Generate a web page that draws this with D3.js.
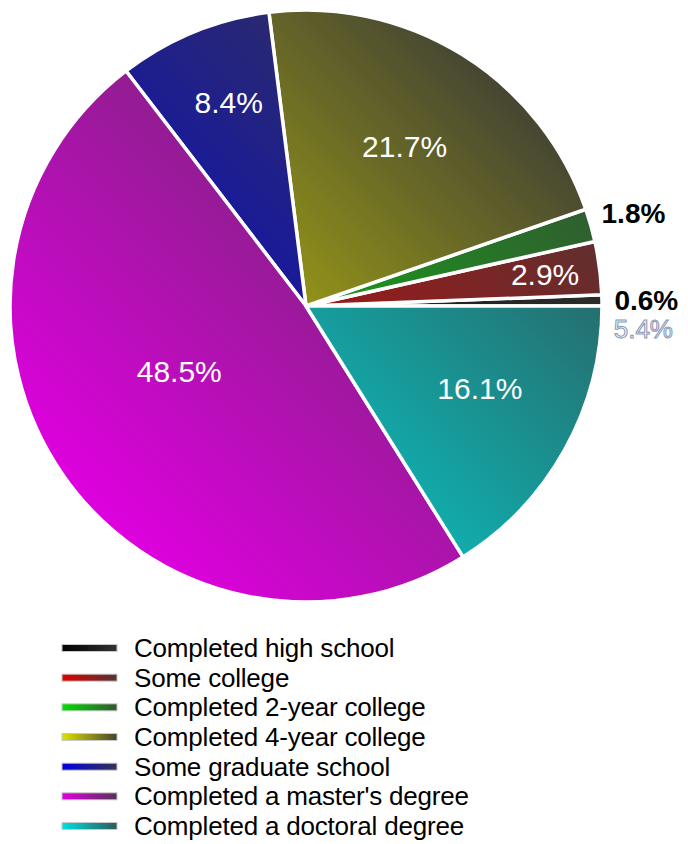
<!DOCTYPE html>
<html>
<head>
<meta charset="utf-8">
<script src="https://cdn.jsdelivr.net/npm/d3@7"></script>
<style>
  body { margin: 0; background: #fff; }
  text { font-family: "Liberation Sans", Arial, sans-serif; }
</style>
</head>
<body>
<div id="container"></div>
<script>
// data
var categories = ["Completed high school", "Some college", "Completed 2-year college",
  "Completed 4-year college", "Some graduate school", "Completed a master's degree",
  "Completed a doctoral degree"];
var percents = [0.6, 2.9, 1.8, 21.7, 8.4, 48.5, 16.1];
var brightColors = ["#000000", "#e00000", "#00e000", "#e0e000", "#0000e0", "#e000e0", "#00e0e0"];
var darkColors = ["#333333", "#553333", "#335533", "#444433", "#333355", "#553355", "#2c5a5a"];
var extraLabel = "5.4%";

const width = 688;
const height = 844;
const cx = 306, cy = 306, radius = 296;

const svg = d3.select('#container')
  .append('svg')
  .attr('width', width)
  .attr('height', height);

const defs = svg.append('defs');

// pie gradients run over the whole pie, bright at lower left
const gr = radius * 0.72;
categories.forEach(function(c, i){
  var g = defs.append('linearGradient')
    .attr('id', 'pg' + i)
    .attr('gradientUnits', 'userSpaceOnUse')
    .attr('x1', -gr).attr('y1', gr)
    .attr('x2', gr).attr('y2', -gr);
  g.append('stop').attr('offset', '0%').attr('stop-color', brightColors[i]);
  g.append('stop').attr('offset', '100%').attr('stop-color', darkColors[i]);

  var lg = defs.append('linearGradient')
    .attr('id', 'lg' + i)
    .attr('x1', 0).attr('y1', 0).attr('x2', 1).attr('y2', 0);
  lg.append('stop').attr('offset', '0%').attr('stop-color', brightColors[i]);
  lg.append('stop').attr('offset', '100%').attr('stop-color', darkColors[i]);
});

var data = categories.map(function(c, i){ return {name: c, value: percents[i], idx: i}; });

// start at 3 o'clock, go counter-clockwise
const pie = d3.pie()
  .sort(null)
  .value(d => d.value)
  .startAngle(Math.PI / 2)
  .endAngle(Math.PI / 2 - 2 * Math.PI);

const arc = d3.arc().innerRadius(0).outerRadius(radius);

const g = svg.append('g').attr('transform', `translate(${cx},${cy})`);
const arcs = pie(data);

g.selectAll('path.slice')
  .data(arcs)
  .enter()
  .append('path')
  .attr('class', 'slice')
  .attr('d', arc)
  .attr('fill', d => 'url(#pg' + d.data.idx + ')')
  .attr('stroke', '#fff')
  .attr('stroke-width', 3.5)
  .attr('stroke-linejoin', 'round');

function labelPos(d, r){
  var a = (d.startAngle + d.endAngle) / 2;
  return [Math.sin(a) * r, -Math.cos(a) * r];
}

// labels: big slices inside (closer to centre the bigger they are), tiny ones outside
arcs.forEach(function(d){
  var p = d.data.value;
  var txt = p.toFixed(1) + '%';
  if (p >= 2.5) {
    var k = 0.92 - 0.062 * Math.sqrt(p);
    var pos = labelPos(d, radius * k);
    // lift labels of the lower half a bit
    var lower = pos[1] > 0;
    var lift = Math.max(0, pos[1] / radius) * 28 / k;
    var nudge = lower && pos[0] < 0 ? -8 : (pos[1] < 0 && pos[0] < 0 ? 6 : 0);
    g.append('text')
      .attr('x', pos[0] + nudge).attr('y', pos[1] - lift + 10)
      .attr('text-anchor', 'middle')
      .style('font-size', '30px')
      .style('fill', '#fff')
      .text(txt);
  } else {
    var pos = labelPos(d, radius * 1.15);
    g.append('text')
      .attr('x', pos[0]).attr('y', pos[1] + 10)
      .attr('text-anchor', 'middle')
      .style('font-size', '28px')
      .style('font-weight', 'bold')
      .style('fill', '#000')
      .text(txt);
  }
});

// stray label under the smallest slice label
var first = labelPos(arcs[0], radius * 1.15);
g.append('text')
  .attr('x', first[0] - 3).attr('y', first[1] + 38)
  .attr('text-anchor', 'middle')
  .style('font-size', '26px')
  .style('fill', '#f4f4f4')
  .style('stroke', '#8798b8')
  .style('stroke-width', 1)
  .text(extraLabel);

//legend
const legendY = d3.scaleLinear().domain([0, categories.length - 1]).range([648, 826]);
const legend = svg.append('g');
categories.forEach(function(c, i){
  legend.append('rect')
    .attr('x', 62).attr('y', legendY(i) - 3.5)
    .attr('width', 55).attr('height', 7)
    .attr('fill', 'url(#lg' + i + ')')
    .attr('stroke', '#c8c8c8')
    .attr('stroke-width', 1);
  legend.append('text')
    .attr('x', 134).attr('y', legendY(i) + 9)
    .style('font-size', '26px')
    .style('letter-spacing', '-0.2px')
    .style('fill', '#000')
    .text(c);
});
</script>
</body>
</html>
